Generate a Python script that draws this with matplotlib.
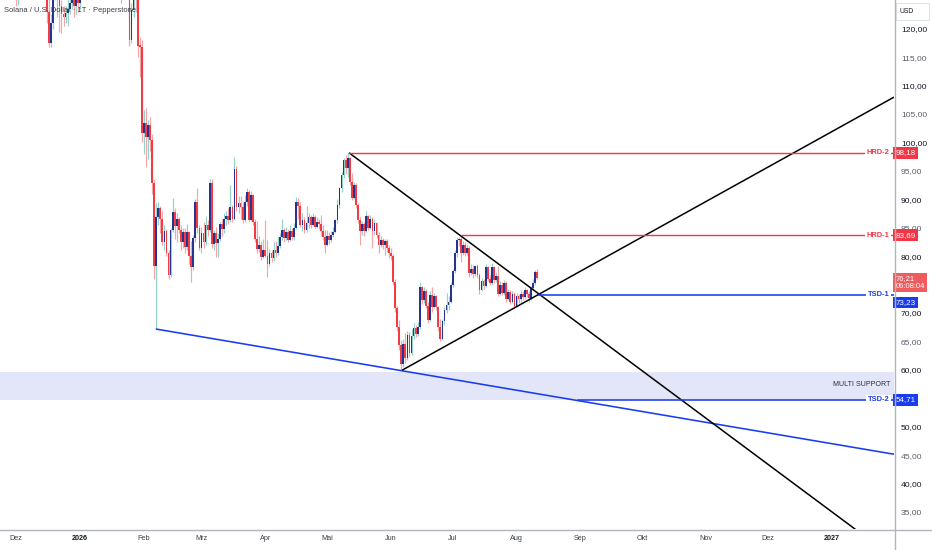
import matplotlib
matplotlib.use('Agg')
import matplotlib.pyplot as plt
import matplotlib.dates as mdates
import matplotlib.transforms as mtransforms
from matplotlib.lines import Line2D
from matplotlib.patches import Rectangle
import numpy as np
import pandas as pd

plt.rcParams['font.family'] = ['Liberation Sans', 'DejaVu Sans']

# ---------------- data (daily candles, SOL/USD) ----------------
first_open = 137.0
start_date = '2025-12-01'

close_dec = [125.0, 138.5, 142.0, 138.0, 132.5, 132.0, 133.0, 133.5, 138.0, 137.5,
             135.5, 132.5, 133.0, 131.0, 127.0, 123.0, 117.5, 121.0, 127.0, 126.0,
             126.5, 124.0, 122.5, 122.0, 122.8, 123.5, 124.5, 125.5, 124.0, 126.0, 124.5]
high_dec = [138.0, 139.5, 144.0, 143.5, 139.0, 134.0, 134.5, 137.0, 140.0, 145.0,
            138.5, 136.5, 134.0, 133.5, 132.0, 129.0, 126.0, 122.5, 128.5, 128.0,
            127.5, 129.0, 125.0, 124.0, 124.0, 126.0, 125.5, 127.0, 129.5, 127.0, 127.0]
low_dec = [124.0, 124.2, 137.0, 136.5, 131.5, 131.0, 128.5, 131.5, 130.5, 135.0,
           131.0, 130.0, 131.5, 129.0, 125.5, 121.0, 116.8, 116.7, 120.0, 125.0,
           122.0, 119.5, 119.2, 120.5, 121.0, 120.5, 122.5, 123.5, 122.0, 122.5, 123.0]

close_jan = [127.5, 131.5, 134.0, 135.5, 137.0, 138.5, 136.0, 137.0, 137.5, 136.0,
             137.0, 140.0, 145.0, 146.0, 143.0, 143.0, 144.0, 134.0, 133.0, 127.5,
             128.0, 127.0, 127.0, 126.5, 118.0, 123.3, 127.0, 125.5, 117.0, 116.8, 101.6]
high_jan = [128.0, 133.0, 135.0, 137.0, 139.0, 141.0, 139.0, 138.0, 140.0, 138.0,
            138.0, 141.0, 146.0, 148.0, 147.0, 145.0, 145.0, 145.0, 135.0, 134.0,
            131.0, 130.0, 129.0, 128.0, 127.0, 124.5, 128.0, 128.0, 127.0, 118.5, 118.0]
low_jan = [123.5, 126.0, 130.5, 133.0, 134.0, 136.0, 134.5, 132.5, 134.5, 135.0,
           135.0, 134.0, 139.0, 143.0, 141.0, 141.0, 142.0, 133.0, 129.0, 126.5,
           124.5, 126.0, 125.5, 125.3, 117.0, 117.5, 122.0, 123.0, 115.0, 111.5, 100.0]

close_feb = [103.5, 101.0, 103.0, 100.5, 92.8, 78.3, 86.8, 88.5, 86.5, 82.5,
             84.5, 80.5, 76.7, 84.6, 87.7, 85.3, 86.5, 84.6, 82.4, 84.3,
             81.6, 84.3, 80.0, 78.1, 83.2, 89.6, 85.0, 81.5]
high_feb = [105.7, 106.0, 104.0, 104.5, 101.5, 93.5, 89.3, 89.5, 88.9, 88.0,
            85.5, 84.8, 81.0, 85.0, 90.2, 88.5, 87.5, 86.8, 85.5, 85.0,
            85.0, 85.6, 84.5, 82.6, 83.8, 90.0, 92.0, 85.5]
low_feb = [98.0, 95.7, 97.0, 98.5, 91.0, 76.0, 67.2, 85.5, 84.0, 82.0,
           81.0, 80.0, 76.0, 76.3, 84.3, 83.0, 82.5, 84.0, 81.0, 81.5,
           80.5, 81.0, 78.6, 75.5, 77.5, 82.5, 84.0, 81.0]

close_mar = [84.0, 82.5, 85.5, 84.6, 92.8, 82.2, 84.0, 82.3, 83.0, 85.7,
             84.7, 86.5, 87.0, 86.3, 88.7, 86.6, 95.4, 88.7, 89.4, 88.6,
             86.4, 89.6, 91.2, 86.3, 90.7, 86.0, 83.0, 81.2, 82.0, 79.8, 81.0]
high_mar = [85.2, 86.0, 87.0, 86.3, 93.6, 93.5, 84.6, 85.2, 84.0, 86.0,
            86.5, 87.5, 88.0, 88.4, 92.5, 89.0, 97.5, 95.8, 90.5, 90.5,
            89.5, 90.8, 92.0, 91.6, 91.4, 91.0, 86.5, 86.2, 83.5, 82.6, 83.0]
low_mar = [80.5, 81.5, 82.0, 83.5, 84.2, 81.5, 81.0, 79.9, 79.8, 82.6,
           83.5, 84.0, 85.5, 85.6, 86.0, 86.0, 86.3, 88.0, 87.5, 86.5,
           85.8, 86.0, 88.8, 86.0, 86.1, 85.5, 82.4, 80.5, 80.8, 79.4, 79.6]

close_apr = [80.1, 78.7, 80.5, 79.6, 81.0, 80.5, 81.8, 83.4, 84.6, 83.1,
             84.3, 82.9, 84.5, 83.3, 85.0, 89.6, 88.9, 85.5, 86.3, 84.6,
             85.9, 86.8, 85.5, 86.9, 85.2, 86.0, 85.6, 84.5, 83.4, 82.0]
high_apr = [86.3, 82.8, 81.2, 81.0, 82.5, 82.6, 83.3, 84.0, 86.6, 85.0,
            85.2, 84.7, 85.5, 85.0, 85.8, 90.4, 90.2, 89.5, 87.5, 86.9,
            88.9, 87.6, 87.3, 87.5, 87.2, 86.8, 86.6, 87.2, 85.5, 84.6]
low_apr = [79.8, 76.4, 78.3, 78.9, 79.2, 79.9, 80.2, 81.5, 82.8, 82.5,
           82.8, 82.4, 82.6, 82.9, 82.8, 84.8, 86.5, 85.2, 84.5, 84.1,
           84.2, 85.0, 85.0, 85.3, 84.9, 85.0, 84.8, 83.5, 82.8, 80.5]

close_may = [83.6, 82.8, 83.8, 84.3, 86.3, 89.0, 91.9, 94.3, 96.9, 95.5,
             97.2, 93.0, 90.3, 92.5, 89.0, 86.3, 84.4, 85.6, 84.4, 87.0,
             85.0, 86.5, 84.4, 85.8, 83.7, 82.0, 82.8, 81.9, 82.6, 81.5, 80.5]
high_may = [84.6, 84.2, 84.4, 85.2, 86.6, 90.0, 92.2, 94.8, 97.3, 97.8,
            98.18, 97.5, 94.6, 93.0, 92.8, 89.3, 86.8, 86.2, 86.0, 88.0,
            87.3, 87.2, 86.8, 86.4, 86.0, 84.2, 83.6, 83.2, 83.0, 83.0, 82.0]
low_may = [81.8, 82.2, 82.5, 83.4, 84.0, 85.8, 88.5, 91.3, 93.8, 94.5,
           94.0, 92.5, 89.8, 90.0, 88.5, 85.8, 82.0, 83.8, 83.6, 84.2,
           84.6, 84.8, 81.5, 83.8, 83.2, 80.5, 81.6, 81.3, 80.2, 80.7, 79.7]

close_jun = [80.0, 75.5, 70.8, 67.6, 64.3, 61.0, 64.6, 62.0, 66.1, 63.0,
             66.0, 67.4, 66.3, 67.6, 74.6, 72.3, 73.8, 71.2, 68.8, 73.2,
             71.0, 72.9, 71.0, 67.5, 65.5, 68.5, 70.5, 71.4, 72.0, 74.9]
high_jun = [81.5, 80.4, 76.0, 71.2, 68.8, 65.2, 65.5, 66.5, 66.8, 66.6,
            67.2, 68.2, 67.9, 68.4, 75.5, 74.8, 74.5, 74.2, 72.0, 73.8,
            74.6, 73.5, 73.2, 71.3, 68.9, 69.0, 71.0, 73.5, 73.0, 75.5]
low_jun = [79.3, 75.0, 70.2, 66.8, 63.5, 59.93, 60.5, 61.2, 61.7, 62.2,
           62.6, 65.5, 65.8, 66.0, 67.2, 71.5, 71.8, 70.8, 68.2, 68.5,
           70.2, 70.8, 70.5, 66.8, 65.0, 65.3, 67.8, 70.0, 70.6, 71.7]

close_jul = [77.3, 80.5, 82.8, 83.0, 80.6, 82.0, 80.6, 81.5, 77.0, 77.8,
             76.8, 78.3, 76.6, 74.0, 75.6, 74.8, 78.0, 76.0, 75.3, 78.0,
             75.8, 76.5, 73.4, 75.0, 73.5, 75.3, 72.5, 73.7, 72.0, 73.4, 71.3]
high_jul = [77.8, 81.0, 83.3, 83.4, 83.69, 82.6, 82.4, 82.2, 81.8, 78.6,
            78.4, 78.5, 78.6, 77.0, 76.2, 76.0, 78.6, 78.3, 76.6, 78.8,
            78.2, 77.2, 78.2, 75.6, 75.4, 75.8, 75.6, 74.2, 74.0, 73.9, 73.6]
low_jul = [74.6, 77.0, 79.8, 81.8, 79.0, 80.2, 80.0, 80.2, 76.4, 76.6,
           76.2, 76.5, 76.1, 73.4, 73.8, 74.2, 74.6, 75.6, 74.9, 75.0,
           75.3, 75.4, 73.0, 73.2, 73.1, 73.2, 72.0, 72.2, 71.6, 71.8, 70.8]

close_aug = [73.0, 72.4, 73.4, 72.8, 74.0, 73.3, 72.6, 74.4, 75.3, 77.2, 76.21]
high_aug = [73.5, 73.4, 74.0, 73.8, 74.5, 74.3, 73.8, 74.8, 76.0, 77.6, 77.8]
low_aug = [71.0, 71.8, 72.0, 72.2, 72.5, 72.8, 72.0, 72.3, 74.0, 75.0, 75.9]

# drawn levels / trend lines (anchor dates and prices)
support_dates = ['2026-02-06 19:00', '2026-06-06 10:00']
support_prices = [67.18, 59.83]
fall_dates = ['2026-05-11 15:00', '2026-08-11 23:00']
fall_prices = [98.18, 73.31]
rise_dates = ['2026-06-06 10:00', '2026-08-11 23:00']
rise_prices = [59.93, 73.31]

level_names = ['HRD-2', 'HRD-1', 'TSD-1', 'TSD-2']
level_prices = [98.18, 83.69, 73.23, 54.71]
level_starts = ['2026-05-11 15:00', '2026-07-05 10:00', '2026-08-11 23:00', '2026-08-30 22:00']
level_kinds = ['res', 'res', 'sup', 'sup']
# price at which each axis tag is centred (TSD-1 pushed below the live-price tag)
level_tag_at = [98.18, 83.69, 71.84, 54.71]

zone_low, zone_high = 54.75, 59.65
zone_label = 'MULTI SUPPORT'
last_price = 76.21
countdown = '06:08:04'

price_ticks = [35, 40, 45, 50, 60, 65, 70, 80, 85, 90, 95, 100, 105, 110, 115, 120]
month_ticks = ['2025-12-01', '2026-01-01', '2026-02-01', '2026-03-01', '2026-04-01',
               '2026-05-01', '2026-06-01', '2026-07-01', '2026-08-01', '2026-09-01',
               '2026-10-01', '2026-11-01', '2026-12-01', '2027-01-01']
month_labels = ['Dez', '2026', 'Feb', 'Mrz', 'Apr', 'Mai', 'Jun', 'Jul', 'Aug', 'Sep',
                'Okt', 'Nov', 'Dez', '2027']

title = 'Solana / U.S. Dollar · 1T · Pepperstone'

# ---------------- assemble ----------------
closes = np.array(close_dec + close_jan + close_feb + close_mar + close_apr +
                  close_may + close_jun + close_jul + close_aug)
highs = np.array(high_dec + high_jan + high_feb + high_mar + high_apr +
                 high_may + high_jun + high_jul + high_aug)
lows = np.array(low_dec + low_jan + low_feb + low_mar + low_apr +
                low_may + low_jun + low_jul + low_aug)
opens = np.concatenate([[first_open], closes[:-1]])
dates = pd.date_range(start_date, periods=len(closes), freq='D')
x = mdates.date2num(dates)

UP_BODY = '#25358f'
UP_WICK = '#93d3c9'
DN_BODY = '#f23c44'
DN_WICK = '#f5a5a8'
RED = '#f23645'
BLUE = '#1a3cf0'
AXIS_GREY = '#b2b5be'

W, H = 932, 550
fig = plt.figure(figsize=(W / 100, H / 100), dpi=100)
fig.patch.set_facecolor('white')
ax = fig.add_axes([0, 21 / H, 894 / W, 529 / H])
ax.set_facecolor('white')

x0 = mdates.date2num(pd.Timestamp('2026-01-01'))
ax.set_xlim(x0 - 38.85, x0 + 395.3)
ax.set_ylim(32.0, 125.05)
xr = ax.get_xlim()[1]

# zone
ax.axhspan(zone_low, zone_high, color='#e3e6f8', zorder=0, lw=0)

# candles
up = closes >= opens
dn = ~up
ax.vlines(x[up], lows[up], highs[up], color=UP_WICK, lw=0.85, zorder=2)
ax.vlines(x[dn], lows[dn], highs[dn], color=DN_WICK, lw=0.85, zorder=2)
body_lo = np.minimum(opens, closes)
body_h = np.maximum(np.abs(closes - opens), 0.25)
ax.bar(x[up], body_h[up], bottom=body_lo[up], width=0.85, color=UP_BODY, lw=0, zorder=3)
ax.bar(x[dn], body_h[dn], bottom=body_lo[dn], width=0.85, color=DN_BODY, lw=0, zorder=3)


def ray(dates_, prices_, color, lw):
    xa = mdates.date2num(pd.to_datetime(dates_))
    slope = (prices_[1] - prices_[0]) / (xa[1] - xa[0])
    ax.plot([xa[0], xr], [prices_[0], prices_[0] + slope * (xr - xa[0])],
            color=color, lw=lw, zorder=4, solid_capstyle='butt')


ray(support_dates, support_prices, BLUE, 1.15)
ray(fall_dates, fall_prices, '#000000', 1.1)
ray(rise_dates, rise_prices, '#000000', 1.1)

blend = mtransforms.blended_transform_factory(ax.transAxes, ax.transData)
for name, p, s, kind, tag in zip(level_names, level_prices, level_starts, level_kinds, level_tag_at):
    col = RED if kind == 'res' else BLUE
    lw = 1.0 if kind == 'res' else 1.15
    xs = mdates.date2num(pd.Timestamp(s))
    ax.plot([xs, xr], [p, p], color=col, lw=lw, zorder=4)
    ax.text(889.5 / 894, p, name, transform=blend, ha='right', va='center',
            fontsize=5.4, color=col, fontweight='bold', zorder=6,
            bbox=dict(boxstyle='square,pad=0.22', fc='white', ec='none'))
    ax.text(1.0017, tag, f'{p:.2f}'.replace('.', ','), transform=blend, ha='left',
            va='center', fontsize=5.8, color='white', zorder=8, clip_on=False,
            bbox=dict(boxstyle='square,pad=0.3', fc=col, ec='none'))

ax.text(890.7 / 894, 57.33, zone_label, transform=blend, ha='right', va='center',
        fontsize=5.1, color='#2a2e39', zorder=6)

# current price box
ax.text(1.0017, 75.36, f'{last_price:.2f}'.replace('.', ',') + '\n' + countdown,
        transform=blend, ha='left', va='center', fontsize=5.5, color='white',
        linespacing=1.15, zorder=9, clip_on=False,
        bbox=dict(boxstyle='square,pad=0.28', fc='#f05b5e', ec='none'))

# axes styling
for sp in ax.spines.values():
    sp.set_visible(False)
ax.yaxis.tick_right()
ax.set_yticks(price_ticks)
ax.set_yticklabels([f'{v},00' for v in price_ticks])
ax.tick_params(axis='y', length=0, pad=5, labelsize=6.1)
for v, lab in zip(price_ticks, ax.get_yticklabels()):
    lab.set_color('#131722' if v % 10 == 0 else '#5d606b')

ax.set_xticks(mdates.date2num(pd.to_datetime(month_ticks)))
ax.set_xticklabels(month_labels)
ax.tick_params(axis='x', length=0, pad=4.5, labelsize=5.2, labelcolor='#3b3e48')
for lab in ax.get_xticklabels():
    if lab.get_text().isdigit():
        lab.set_fontweight('bold')
        lab.set_color('#131722')
ax.grid(False)

# frame lines
fig.add_artist(Line2D([894.5 / W, 894.5 / W], [0, 1], color=AXIS_GREY, lw=1.0))
fig.add_artist(Line2D([0, 1], [1 - 529.5 / H, 1 - 529.5 / H], color=AXIS_GREY, lw=1.0))

# USD box
fig.add_artist(Rectangle((896 / W, 1 - 20 / H), 33 / W, 16.5 / H, transform=fig.transFigure,
                         fc='white', ec='#e0e3eb', lw=0.8))
fig.text(900 / W, 1 - 11.8 / H, 'USD', fontsize=4.9, color='#131722', va='center', ha='left')

# title
fig.text(4 / W, 1 - 11 / H, title, fontsize=5.4, color='#3b3e48', va='center', ha='left')

fig.savefig('out.png', dpi=100, facecolor='white')
